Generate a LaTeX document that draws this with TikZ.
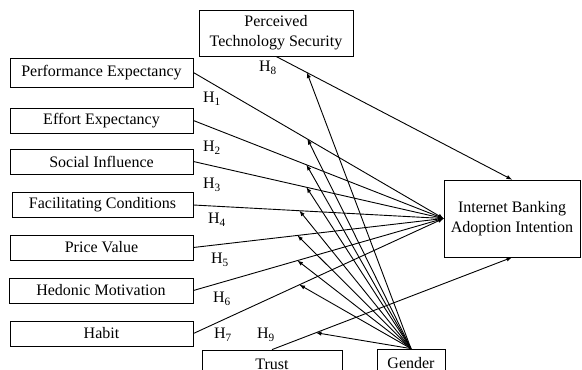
\documentclass[tikz,border=0pt]{standalone}
\usepackage{fontspec}
\setmainfont{Liberation Serif}
\begin{document}
\begin{tikzpicture}[>=latex, x=1pt, y=-1pt, line width=0.9pt,
        box/.style={draw, line width=0.8pt, inner sep=0pt, align=center, font=\fontsize{16}{20}\selectfont},
        hyp/.style={inner sep=0pt, font=\fontsize{16}{20}\selectfont}]
        \useasboundingbox (0,0) rectangle (582,370);
        \clip (0,0) rectangle (582,370);
        \def\boxW{183}
        \def\boxH{25}

        \node[box, minimum width=154, minimum height=46] (pts) at (276,33) {Perceived\\Technology Security};
        \node[box, minimum width=\boxW, minimum height=29] (pe) at (101.5,72.5) {Performance Expectancy};
        \node[box, minimum width=\boxW, minimum height=\boxH] (ee) at (101.5,120.5) {Effort Expectancy};
        \node[box, minimum width=\boxW, minimum height=\boxH] (si) at (101.5,161.5) {Social Influence};
        \node[box, minimum width=181, minimum height=\boxH] (fc) at (102.5,205) {Facilitating Conditions};
        \node[box, minimum width=\boxW, minimum height=\boxH] (pv) at (101.5,247.5) {Price Value};
        \node[box, minimum width=184, minimum height=\boxH] (hm) at (101,290.5) {Hedonic Motivation};
        \node[box, minimum width=\boxW, minimum height=\boxH] (hab) at (101.5,333.5) {Habit};
        \node[box, minimum width=136, minimum height=77] (ib) at (512,218.5) {Internet Banking\\Adoption Intention};
        \node[box, minimum width=140, minimum height=28] (tru) at (272,364) {Trust};
        \node[box, minimum width=68, minimum height=28] (gen) at (411,363) {Gender};

        % paths to the intention
        \draw[->] (pe.east) -- coordinate[pos=.456] (m1) (ib.west);
        \draw[->] (ee.east) -- coordinate[pos=.452] (m2) (ib.west);
        \draw[->] (si.east) -- coordinate[pos=.452] (m3) (ib.west);
        \draw[->] (fc.east) -- coordinate[pos=.424] (m4) (ib.west);
        \draw[->] (pv.east) -- coordinate[pos=.416] (m5) (ib.west);
        \draw[->] (hm.east) -- coordinate[pos=.416] (m6) (ib.west);
        \draw[->] (hab.east) -- coordinate[pos=.424] (m7) (ib.west);
        \draw[->] (pts.south) -- coordinate[pos=.131] (m8) (ib.north);
        \draw[->] (tru.north) -- coordinate[pos=.183] (m9) (ib.south);

        % moderating effect of gender
        \foreach \m in {m1,m2,m3,m4,m5,m6,m7,m8,m9}
            \draw[->] (gen.north) -- (\m);

        \node[hyp] (h1) at (212,99) {H\textsubscript{1}};
        \node[hyp] (h2) at (212,148) {H\textsubscript{2}};
        \node[hyp] (h3) at (212,185) {H\textsubscript{3}};
        \node[hyp] (h4) at (217,220) {H\textsubscript{4}};
        \node[hyp] (h5) at (220,260) {H\textsubscript{5}};
        \node[hyp] (h6) at (222,299) {H\textsubscript{6}};
        \node[hyp] (h7) at (223,335) {H\textsubscript{7}};
        \node[hyp] (h8) at (268,68) {H\textsubscript{8}};
        \node[hyp] (h9) at (266,335) {H\textsubscript{9}};
\end{tikzpicture}
\end{document}
